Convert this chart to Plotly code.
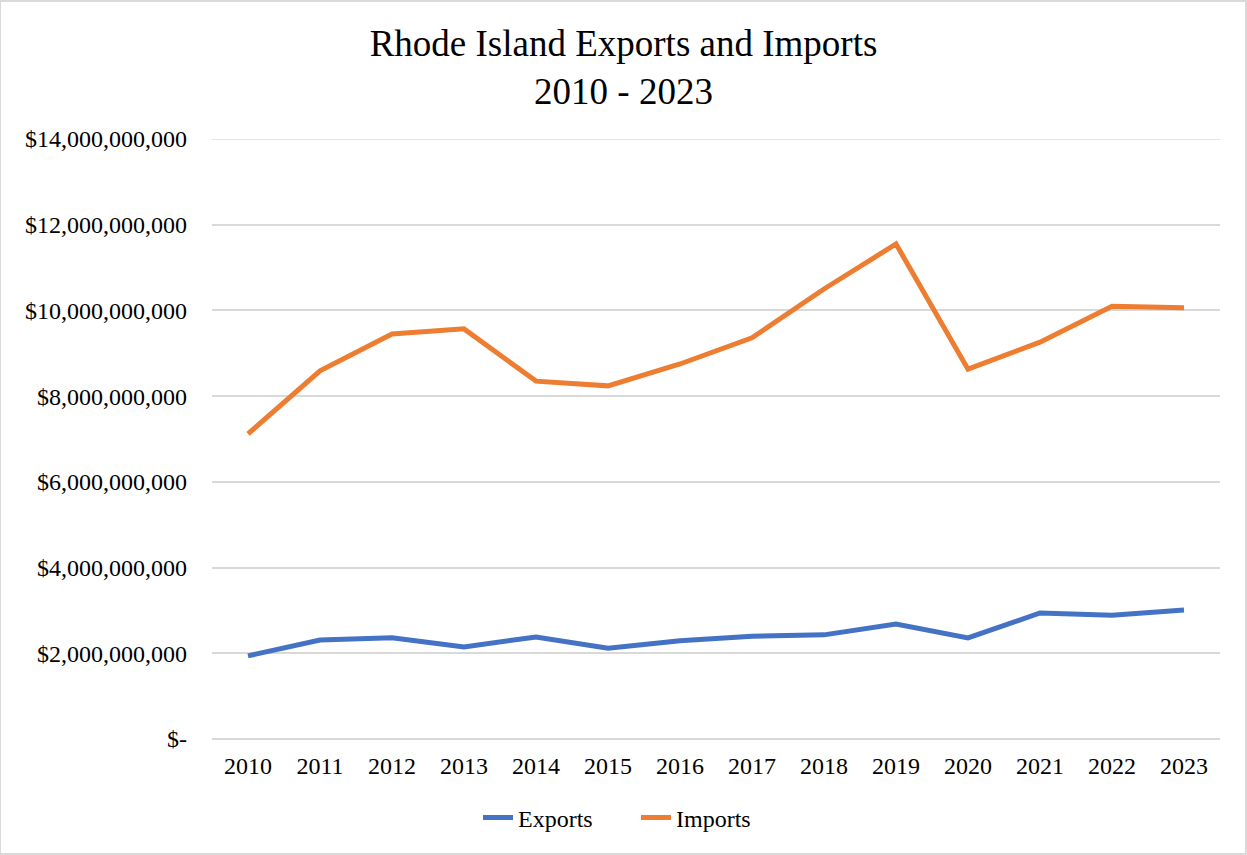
import plotly.graph_objects as go

years = [str(y) for y in range(2010, 2024)]
exports = [1.94e9, 2.31e9, 2.36e9, 2.15e9, 2.38e9, 2.12e9, 2.29e9, 2.40e9, 2.43e9, 2.68e9, 2.36e9, 2.94e9, 2.89e9, 3.01e9]
imports = [7.12e9, 8.59e9, 9.45e9, 9.57e9, 8.35e9, 8.24e9, 8.75e9, 9.36e9, 10.50e9, 11.55e9, 8.63e9, 9.26e9, 10.10e9, 10.06e9]

y_ticks = [0, 2e9, 4e9, 6e9, 8e9, 10e9, 12e9, 14e9]
y_tick_labels = ["$-", "$2,000,000,000", "$4,000,000,000", "$6,000,000,000",
                 "$8,000,000,000", "$10,000,000,000", "$12,000,000,000", "$14,000,000,000"]

FONT = "Liberation Serif, Times New Roman, serif"
GRID = "#D9D9D9"

fig = go.Figure()
fig.add_trace(go.Scatter(x=years, y=exports, name="Exports", mode="lines",
                         line=dict(color="#4472C4", width=5)))
fig.add_trace(go.Scatter(x=years, y=imports, name="Imports", mode="lines",
                         line=dict(color="#ED7D31", width=5)))

fig.update_layout(
    width=1247, height=855,
    margin=dict(l=212, r=27, t=139, b=116, autoexpand=False),
    paper_bgcolor="white", plot_bgcolor="white",
    font=dict(family=FONT, color="black", size=24),
    title=dict(text="Rhode Island Exports and Imports<br>2010 - 2023",
               x=0.5, xanchor="center",
               y=0.935, yanchor="top",
               font=dict(family=FONT, size=37, color="black"), pad=dict(t=0, b=0)),
    legend=dict(orientation="h", x=(636 - 212) / 1008, xanchor="center",
                y=-0.094, yanchor="top",
                entrywidth=113, entrywidthmode="pixels",
                font=dict(family=FONT, size=24, color="black")),
    showlegend=True,
    shapes=[
        # light frame around the whole chart
        dict(type="rect", xref="paper", yref="paper",
             x0=-212 / 1008, x1=1 + 26 / 1008, y0=-115 / 600, y1=1 + 138 / 600,
             line=dict(color=GRID, width=2), fillcolor="rgba(0,0,0,0)", layer="below"),
        # top gridline at the range edge
        dict(type="line", xref="paper", yref="y", x0=0, x1=1, y0=14e9, y1=14e9,
             line=dict(color=GRID, width=1.5), layer="below"),
    ],
)
fig.update_xaxes(type="category", range=[-0.5, 13.5], showgrid=False,
                 showline=False, ticks="", ticklabelstandoff=10, tickangle=0,
                 tickfont=dict(family=FONT, size=24, color="black"))
fig.update_yaxes(range=[0, 14e9], tickvals=y_ticks, ticktext=y_tick_labels,
                 showgrid=True, gridcolor=GRID, gridwidth=1.5,
                 zeroline=True, zerolinecolor=GRID, zerolinewidth=1.5,
                 showline=False, ticks="", ticklabelstandoff=24,
                 tickfont=dict(family=FONT, size=24, color="black"))

fig.write_html("out.html")
